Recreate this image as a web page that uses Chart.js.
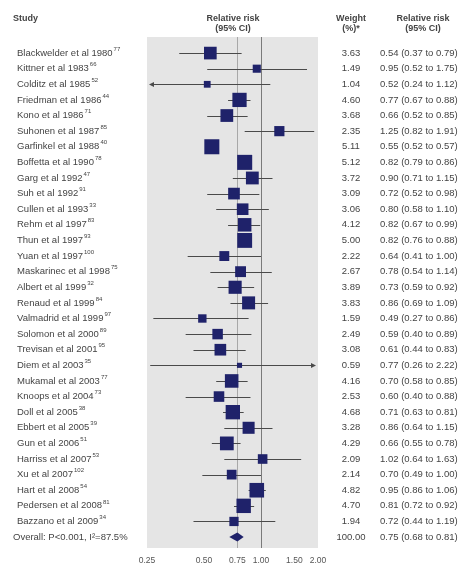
<!DOCTYPE html>
<html>
<head>
<meta charset="utf-8">
<script src="https://cdn.jsdelivr.net/npm/chart.js@4.4.1/dist/chart.umd.min.js"></script>
<style>
html,body{margin:0;padding:0;background:#fff;}
#wrap{width:466px;height:569px;position:relative;}
</style>
</head>
<body>
<div id="wrap"><canvas id="c" width="466" height="569"></canvas></div>
<script>
const studies = ["Blackwelder et al 1980","Kittner et al 1983","Colditz et al 1985","Friedman et al 1986","Kono et al 1986","Suhonen et al 1987","Garfinkel et al 1988","Boffetta et al 1990","Garg et al 1992","Suh et al 1992","Cullen et al 1993","Rehm et al 1997","Thun et al 1997","Yuan et al 1997","Maskarinec et al 1998","Albert et al 1999","Renaud et al 1999","Valmadrid et al 1999","Solomon et al 2000","Trevisan et al 2001","Diem et al 2003","Mukamal et al 2003","Knoops et al 2004","Doll et al 2005","Ebbert et al 2005","Gun et al 2006","Harriss et al 2007","Xu et al 2007","Hart et al 2008","Pedersen et al 2008","Bazzano et al 2009"];
const refs = ["77","66","52","44","71","85","40","78","47","91","33","83","93","100","75","32","84","97","89","95","35","77","73","38","39","51","53","102","54","81","34"];
const weights = [3.63,1.49,1.04,4.60,3.68,2.35,5.11,5.12,3.72,3.09,3.06,4.12,5.00,2.22,2.67,3.89,3.83,1.59,2.49,3.08,0.59,4.16,2.53,4.68,3.28,4.29,2.09,2.14,4.82,4.70,1.94];
const rr = [0.54,0.95,0.52,0.77,0.66,1.25,0.55,0.82,0.90,0.72,0.80,0.82,0.82,0.64,0.78,0.73,0.86,0.49,0.59,0.61,0.77,0.70,0.60,0.71,0.86,0.66,1.02,0.70,0.95,0.81,0.72];
const lo = [0.37,0.52,0.24,0.67,0.52,0.82,0.52,0.79,0.71,0.52,0.58,0.67,0.76,0.41,0.54,0.59,0.69,0.27,0.40,0.44,0.26,0.58,0.40,0.63,0.64,0.55,0.64,0.49,0.86,0.72,0.44];
const hi = [0.79,1.75,1.12,0.88,0.85,1.91,0.57,0.86,1.15,0.98,1.10,0.99,0.88,1.00,1.14,0.92,1.09,0.86,0.89,0.83,2.22,0.85,0.88,0.81,1.15,0.78,1.63,1.00,1.06,0.92,1.19];
const overallLabel = "Overall: P<0.001, I\u00B2=87.5%";
const overall = {weight:"100.00", rr:0.75, lo:0.68, hi:0.81};
const xTicks = [0.25,0.50,0.75,1.00,1.50,2.00];

const FONT = '"Liberation Sans", Arial, sans-serif';
const TXT = '#444';
const NAVY = '#1f226a';
const fmt = v => v.toFixed(2);

const forestPlugin = {
  id:'forest',
  beforeDraw(chart){
    const {ctx, chartArea:a} = chart;
    ctx.save();
    ctx.fillStyle = '#e5e5e5';
    ctx.fillRect(a.left, a.top, a.right-a.left, a.bottom-a.top);
    const xs = chart.scales.x;
    let px = xs.getPixelForValue(overall.rr);
    ctx.strokeStyle = '#a8a8a8'; ctx.lineWidth = 1;
    ctx.beginPath(); ctx.moveTo(Math.round(px)+0.5, a.top); ctx.lineTo(Math.round(px)+0.5, a.bottom); ctx.stroke();
    px = xs.getPixelForValue(1);
    ctx.strokeStyle = '#7a7a7a';
    ctx.beginPath(); ctx.moveTo(Math.round(px)+0.5, a.top); ctx.lineTo(Math.round(px)+0.5, a.bottom); ctx.stroke();
    ctx.restore();
  },
  beforeDatasetsDraw(chart){
    const {ctx, chartArea:a} = chart;
    const xs = chart.scales.x, ys = chart.scales.y;
    ctx.save();
    ctx.strokeStyle = '#4a4a4a'; ctx.fillStyle = '#4a4a4a'; ctx.lineWidth = 1;
    for (let i=0;i<rr.length;i++){
      const y = Math.round(ys.getPixelForValue(i))+0.5;
      let x1 = lo[i] < xs.min ? a.left+3 : xs.getPixelForValue(lo[i]);
      let x2 = hi[i] > xs.max ? a.right-3 : xs.getPixelForValue(hi[i]);
      ctx.beginPath(); ctx.moveTo(x1,y); ctx.lineTo(x2,y); ctx.stroke();
      if (lo[i] < xs.min){
        ctx.beginPath(); ctx.moveTo(x1-1,y); ctx.lineTo(x1+4,y-2.5); ctx.lineTo(x1+4,y+2.5); ctx.closePath(); ctx.fill();
      }
      if (hi[i] > xs.max){
        ctx.beginPath(); ctx.moveTo(x2+1,y); ctx.lineTo(x2-4,y-2.5); ctx.lineTo(x2-4,y+2.5); ctx.closePath(); ctx.fill();
      }
    }
    const yo = ys.getPixelForValue(rr.length);
    const xl = xs.getPixelForValue(overall.lo), xc = xs.getPixelForValue(overall.rr), xr = xs.getPixelForValue(overall.hi);
    ctx.fillStyle = NAVY;
    ctx.beginPath(); ctx.moveTo(xl,yo); ctx.lineTo(xc,yo-4.5); ctx.lineTo(xr,yo); ctx.lineTo(xc,yo+4.5); ctx.closePath(); ctx.fill();
    ctx.restore();
  },
  afterDraw(chart){
    const {ctx} = chart;
    const ys = chart.scales.y;
    ctx.save();
    ctx.fillStyle = TXT;
    ctx.textBaseline = 'middle';
    ctx.font = 'bold 9px ' + FONT;
    ctx.textAlign = 'left';
    ctx.fillText('Study', 13, 19);
    ctx.textAlign = 'center';
    ctx.fillText('Relative risk', 233, 19);
    ctx.fillText('(95% CI)', 233, 29);
    ctx.fillText('Weight', 351, 19);
    ctx.fillText('(%)*', 351, 29);
    ctx.fillText('Relative risk', 423, 19);
    ctx.fillText('(95% CI)', 423, 29);
    for (let i=0;i<studies.length;i++){
      const y = ys.getPixelForValue(i);
      ctx.font = '9.5px ' + FONT;
      ctx.textAlign = 'left';
      ctx.fillText(studies[i], 17, y);
      const w = ctx.measureText(studies[i]).width;
      ctx.font = '6px ' + FONT;
      ctx.fillText(refs[i], 17 + w + 1, y - 4);
      ctx.font = '9.5px ' + FONT;
      ctx.textAlign = 'center';
      ctx.fillText(weights[i].toFixed(2), 351, y);
      ctx.textAlign = 'left';
      ctx.fillText(fmt(rr[i]) + ' (' + fmt(lo[i]) + ' to ' + fmt(hi[i]) + ')', 380, y);
    }
    const yo = ys.getPixelForValue(studies.length);
    ctx.font = '9.5px ' + FONT;
    ctx.textAlign = 'left';
    ctx.fillText(overallLabel, 13, yo);
    ctx.textAlign = 'center';
    ctx.fillText(overall.weight, 351, yo);
    ctx.textAlign = 'left';
    ctx.fillText(fmt(overall.rr) + ' (' + fmt(overall.lo) + ' to ' + fmt(overall.hi) + ')', 380, yo);
    ctx.restore();
  }
};

new Chart(document.getElementById('c'), {
  type:'scatter',
  data:{
    datasets:[{
      data: rr.map((v,i)=>({x:v, y:i})),
      pointStyle:'rect',
      backgroundColor: NAVY,
      borderColor: NAVY,
      borderWidth: 0,
      pointRadius: ctx => 4.7*Math.sqrt(weights[ctx.dataIndex]),
      pointHoverRadius: ctx => 4.7*Math.sqrt(weights[ctx.dataIndex])
    }]
  },
  options:{
    responsive:false,
    animation:false,
    events:[],
    layout:{padding:{left:147, right:148, top:37, bottom:3}},
    plugins:{legend:{display:false}, tooltip:{enabled:false}},
    scales:{
      x:{
        type:'logarithmic', min:0.25, max:2.0,
        grid:{display:false, drawTicks:false},
        border:{display:false},
        afterBuildTicks: s => { s.ticks = xTicks.map(v=>({value:v})); },
        afterFit: s => { s.height = 18; },
        ticks:{ padding:8, color:'#555', font:{family:FONT, size:8.5}, autoSkip:false, maxRotation:0,
          callback: v => Number(v).toFixed(2) }
      },
      y:{ type:'linear', reverse:true, min:-1.03, max:31.7, display:false }
    }
  },
  plugins:[forestPlugin]
});
</script>
</body>
</html>
